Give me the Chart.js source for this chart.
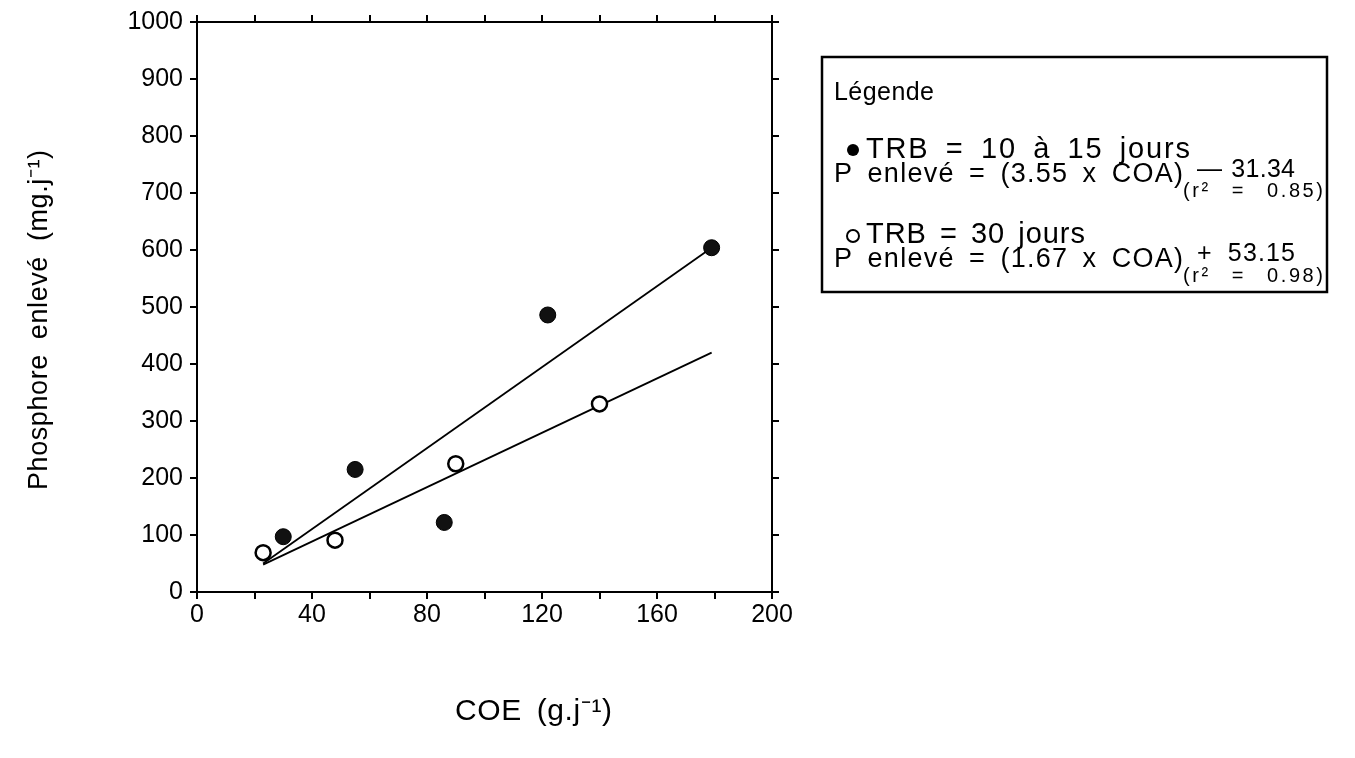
<!DOCTYPE html>
<html>
<head>
<meta charset="utf-8">
<script src="https://cdn.jsdelivr.net/npm/chart.js@4.4.0/dist/chart.umd.min.js"></script>
<style>
  html, body { margin: 0; padding: 0; background: #fff; }
  #wrap { width: 1355px; height: 758px; }
</style>
</head>
<body>
<div id="wrap"><canvas id="chart" width="1355" height="758"></canvas></div>
<script>
// valeurs
const trb15X = [30, 55, 86, 122, 179];
const trb15Y = [97, 215, 122, 486, 604];
const trb30X = [23, 48, 90, 140];
const trb30Y = [69, 91, 225, 330];

// droites de regression (extremites lues)
const fit15X = [23, 179];
const fit15Y = [50, 604];
const fit30X = [23, 179];
const fit30Y = [48, 420];

const xMin = 0, xMax = 200, xStep = 20, xLabelStep = 40;
const yMin = 0, yMax = 1000, yStep = 100;

const xTitle = "COE (g.j⁻¹)";
const yTitle = "Phosphore enlevé (mg.j⁻¹)";

function pts(xs, ys) {
    return xs.map(function (x, i) { return { x: x, y: ys[i] }; });
}

const FONT = "Liberation Sans";

// ecrit un texte sur une largeur donnee : l'ecart partage entre lettres et espaces
function fitText(ctx, txt, x, y, w, size) {
    ctx.font = size + "px '" + FONT + "'";
    ctx.letterSpacing = "0px";
    ctx.wordSpacing = "0px";
    const m = ctx.measureText(txt).width;
    const extra = w - m;
    const nSp = txt.split(" ").length - 1;
    const share = nSp > 0 ? 0.5 : 1;
    ctx.letterSpacing = (extra * share / Math.max(1, txt.length - 1)).toFixed(2) + "px";
    if (nSp > 0) ctx.wordSpacing = (extra * (1 - share) / nSp).toFixed(2) + "px";
    ctx.fillText(txt, x, y);
    ctx.letterSpacing = "0px";
    ctx.wordSpacing = "0px";
}

// legende + titres des axes
const extras = {
    id: "extras",
    afterDraw(chart) {
        const ctx = chart.ctx;
        ctx.save();
        ctx.strokeStyle = "#000";
        ctx.fillStyle = "#000";
        ctx.lineWidth = 2.5;
        ctx.strokeRect(822, 57, 505, 235);
        ctx.textBaseline = "middle";
        ctx.textAlign = "left";

        fitText(ctx, "Légende", 834, 93, 100, 25);

        // TRB 10-15 jours
        ctx.beginPath();
        ctx.arc(853, 150, 6, 0, Math.PI * 2);
        ctx.fill();
        fitText(ctx, "TRB = 10 à 15 jours", 866, 150, 324, 29);
        fitText(ctx, "P enlevé = (3.55 x COA)", 834, 175, 349, 27);
        fitText(ctx, "— 31.34", 1197, 170, 98, 25);
        fitText(ctx, "(r² = 0.85)", 1183, 191, 140, 20);

        // TRB 30 jours
        ctx.beginPath();
        ctx.arc(853, 236, 6, 0, Math.PI * 2);
        ctx.lineWidth = 2;
        ctx.stroke();
        fitText(ctx, "TRB = 30 jours", 866, 235, 219, 29);
        fitText(ctx, "P enlevé = (1.67 x COA)", 834, 260, 349, 27);
        fitText(ctx, "+ 53.15", 1197, 254, 98, 25);
        fitText(ctx, "(r² = 0.98)", 1183, 276, 140, 20);

        // titres
        fitText(ctx, xTitle, 455, 712, 157, 30);
        ctx.translate(40, 320);
        ctx.rotate(-Math.PI / 2);
        fitText(ctx, yTitle, -170, 0, 340, 27);
        ctx.restore();
    }
};

function axisStyle() {
    return {
        grid: { drawOnChartArea: false, drawTicks: true, tickLength: 7, color: "#000", lineWidth: 2 },
        border: { display: true, color: "#000", width: 2 }
    };
}

const tickFont = { family: FONT, size: 25 };

new Chart(document.getElementById("chart"), {
    type: "scatter",
    data: {
        datasets: [
            {
                label: "fit 10-15",
                data: pts(fit15X, fit15Y),
                showLine: true,
                borderColor: "#000",
                borderWidth: 1.8,
                pointRadius: 0,
                order: 3
            },
            {
                label: "fit 30",
                data: pts(fit30X, fit30Y),
                showLine: true,
                borderColor: "#000",
                borderWidth: 1.8,
                pointRadius: 0,
                order: 3
            },
            {
                label: "TRB = 10 à 15 jours",
                data: pts(trb15X, trb15Y),
                pointRadius: 8,
                pointBackgroundColor: "#111",
                pointBorderColor: "#000",
                pointBorderWidth: 1,
                order: 1
            },
            {
                label: "TRB = 30 jours",
                data: pts(trb30X, trb30Y),
                pointRadius: 7.5,
                pointBackgroundColor: "#fff",
                pointBorderColor: "#000",
                pointBorderWidth: 2.5,
                order: 1
            }
        ]
    },
    options: {
        responsive: false,
        animation: false,
        layout: { padding: 0 },
        plugins: {
            legend: { display: false },
            tooltip: { enabled: false }
        },
        scales: {
            x: Object.assign(axisStyle(), {
                type: "linear",
                position: "bottom",
                min: xMin,
                max: xMax,
                ticks: {
                    stepSize: xStep,
                    autoSkip: false,
                    maxRotation: 0,
                    padding: 1,
                    color: "#000",
                    font: tickFont,
                    callback: function (v) { return v % xLabelStep === 0 ? String(v) : ""; }
                },
                afterFit: function (s) { s.height = 166; }
            }),
            y: Object.assign(axisStyle(), {
                type: "linear",
                position: "left",
                min: yMin,
                max: yMax,
                ticks: {
                    stepSize: yStep,
                    padding: 7,
                    color: "#000",
                    font: tickFont,
                    callback: function (v) { return String(v); }
                },
                afterFit: function (s) { s.width = 197; }
            }),
            x2: Object.assign(axisStyle(), {
                type: "linear",
                axis: "x",
                position: "top",
                min: xMin,
                max: xMax,
                ticks: { stepSize: xStep, autoSkip: false, callback: function () { return ""; } },
                afterFit: function (s) { s.height = 20; }
            }),
            y2: Object.assign(axisStyle(), {
                type: "linear",
                axis: "y",
                position: "right",
                min: yMin,
                max: yMax,
                ticks: { stepSize: yStep, callback: function () { return ""; } },
                afterFit: function (s) { s.width = 583; }
            })
        }
    },
    plugins: [extras]
});
</script>
</body>
</html>
